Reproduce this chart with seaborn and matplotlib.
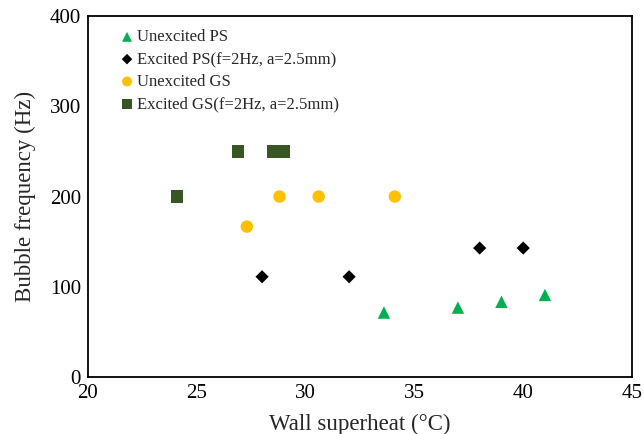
import matplotlib
matplotlib.use("Agg")
import matplotlib.pyplot as plt
import seaborn as sns
import pandas as pd

# Wall superheat (°C) and bubble frequency (Hz) for each case
unexc_ps_x = [33.6, 37.0, 39.0, 41.0]
unexc_ps_y = [71.4, 76.9, 83.3, 90.9]

exc_ps_x = [28.0, 32.0, 38.0, 40.0]
exc_ps_y = [111.1, 111.1, 142.9, 142.9]

unexc_gs_x = [27.3, 28.8, 30.6, 34.1]
unexc_gs_y = [166.7, 200.0, 200.0, 200.0]

exc_gs_x = [24.1, 26.9, 28.5, 29.0]
exc_gs_y = [200.0, 250.0, 250.0, 250.0]

labels = [
    "Unexcited PS",
    "Excited PS(f=2Hz, a=2.5mm)",
    "Unexcited GS",
    "Excited GS(f=2Hz, a=2.5mm)",
]

sns.set_theme(style="white")
plt.rcParams["font.family"] = ["Liberation Serif", "DejaVu Serif"]

fig = plt.figure(figsize=(6.44, 4.34), dpi=100)
ax = fig.add_axes([0.1366, 0.1313, 0.8448, 0.8318])

series = [
    (unexc_ps_x, unexc_ps_y, labels[0], "#00B050", "^", 80),
    (exc_ps_x, exc_ps_y, labels[1], "#000000", "D", 45),
    (unexc_gs_x, unexc_gs_y, labels[2], "#FFC000", "o", 80),
    (exc_gs_x, exc_gs_y, labels[3], "#375623", "s", 80),
]

for xs, ys, lab, col, mk, sz in series:
    df = pd.DataFrame({"x": xs, "y": ys})
    sns.scatterplot(data=df, x="x", y="y", ax=ax, color=col, marker=mk,
                    s=sz, edgecolor="none", label=lab, zorder=3)

ax.set_xlim(20, 45)
ax.set_ylim(0, 400)
ax.set_xticks([20, 25, 30, 35, 40, 45])
ax.set_yticks([0, 100, 200, 300, 400])
ax.tick_params(axis="both", length=0, labelsize=15, colors="#000000")
ax.tick_params(axis="x", pad=5)
ax.tick_params(axis="y", pad=5)
ax.set_xlabel("Wall superheat (°C)", fontsize=16.5, labelpad=8)
ax.set_ylabel("Bubble frequency (Hz)", fontsize=16.5, labelpad=10)

for sp in ax.spines.values():
    sp.set_visible(True)
    sp.set_color("#000000")
    sp.set_linewidth(1.3)

leg = ax.legend(loc="upper left", bbox_to_anchor=(0.035, 0.982), frameon=False,
                fontsize=12, handletextpad=-0.2, labelspacing=0.38,
                markerscale=0.8, borderaxespad=0.0, handlelength=1.6)

fig.savefig("out.png", dpi=100)
